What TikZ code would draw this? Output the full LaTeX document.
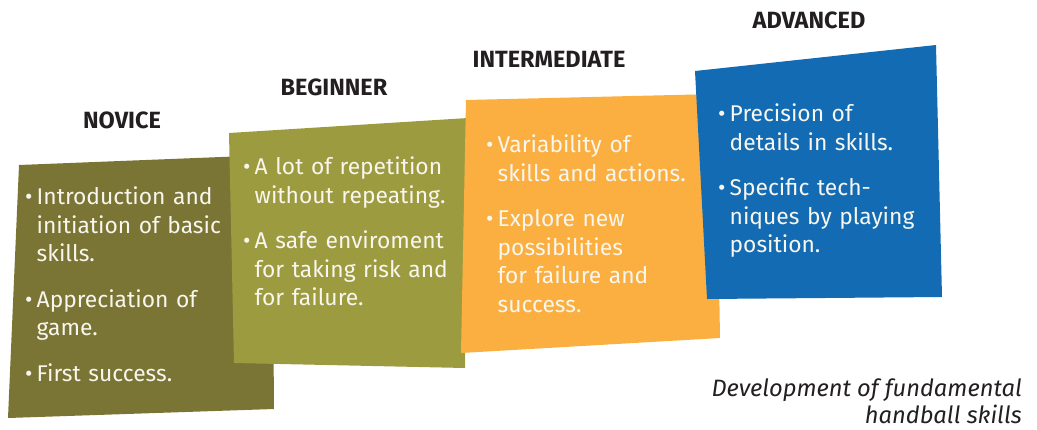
\documentclass[tikz,border=0pt]{standalone}
\usepackage{fontspec}
\setmainfont{Fira Sans}
\usetikzlibrary{positioning}

\definecolor{novicecol}{RGB}{122,117,52}
\definecolor{beginnercol}{RGB}{157,155,64}
\definecolor{intercol}{RGB}{250,175,64}
\definecolor{advancedcol}{RGB}{19,108,179}
\definecolor{headgray}{RGB}{35,31,32}
\definecolor{boxtext}{RGB}{248,246,238}

\newcommand{\skillitem}[1]{\par\noindent\hangindent=11.5pt\hangafter=1\makebox[11.5pt][l]{\textbullet}#1\par}
\newcommand{\itemgap}{\vspace{17pt}}

\begin{document}
\begin{tikzpicture}[x=1pt, y=-1pt,
    level/.style={font=\fontsize{23.5}{28}\selectfont\bfseries, text=headgray, inner sep=0pt, anchor=base},
    skills/.style={font=\fontsize{22.8}{28.5}\selectfont, text=boxtext, inner sep=0pt, anchor=north west, text width=#1},
]
    \useasboundingbox (0,0) rectangle (1037,429);

    % skewed boxes, back to front
    \fill[novicecol] (19,165) -- (272,155) -- (274,409) -- (8,418) -- cycle;
    \fill[beginnercol] (229,133) -- (468,118) -- (465,368) -- (234,363) -- cycle;
    \fill[intercol] (466,100) -- (716,94) -- (720,338) -- (461,353) -- cycle;
    \fill[advancedcol] (695,71) -- (936,45) -- (942,297) -- (707,299) -- cycle;

    % levels
    \node[level] (novice) at (122,128) {NOVICE};
    \node[level] (beginner) at (334,95) {BEGINNER};
    \node[level] (intermediate) at (549,67) {INTERMEDIATE};
    \node[level] (advanced) at (809,28) {ADVANCED};

    % contents
    \node[skills=240pt] (novicetext) at (25,176) {%
        \skillitem{Introduction and\newline initiation of basic\newline skills.}\itemgap
        \skillitem{Appreciation of\newline game.}\itemgap
        \skillitem{First success.}};

    \node[skills=220pt] (beginnertext) at (243,146) {%
        \skillitem{A lot of repetition\newline without repeating.}\itemgap
        \skillitem{A safe enviroment\newline for taking risk and\newline for failure.}};

    \node[skills=220pt] (intertext) at (486,124) {%
        \skillitem{Variability of\newline skills and actions.}\itemgap
        \skillitem{Explore new\newline possibilities\newline for failure and\newline success.}};

    \node[skills=215pt] (advancedtext) at (718,93) {%
        \skillitem{Precision of\newline details in skills.}\itemgap
        \skillitem{Specific tech-\newline niques by playing\newline position.}};

    \node[font=\fontsize{23.7}{27}\selectfont\itshape, text=headgray, inner sep=0pt, text depth=0pt, anchor=north east, align=right] (caption) at (1022,379)
        {Development of fundamental\\handball skills};
\end{tikzpicture}
\end{document}
